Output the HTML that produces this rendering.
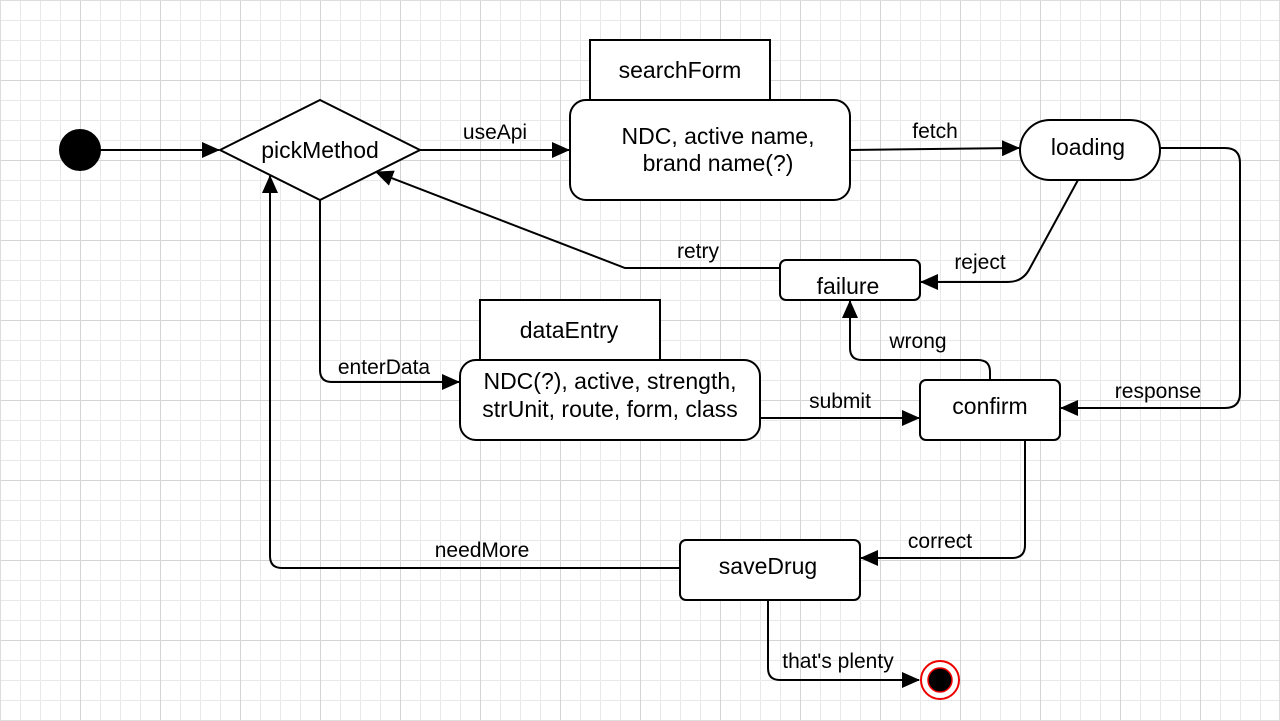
<!DOCTYPE html>
<html><head><style>
body{margin:0;background:#fff;}
svg{display:block;}
text{font-family:"Liberation Sans",Arial,sans-serif;fill:#000;}
</style></head><body>
<svg width="1280" height="721" viewBox="0 0 1280 721" xmlns="http://www.w3.org/2000/svg">
<defs>
<pattern id="minor" width="20" height="20" patternUnits="userSpaceOnUse" x="1" y="1">
<path d="M20 0V20M0 20H20" stroke="#e8e8e8" stroke-width="1" fill="none" transform="translate(-0.5,-0.5)"/>
</pattern>
<pattern id="major" width="80" height="80" patternUnits="userSpaceOnUse" x="1" y="1">
<path d="M80 0V80M0 80H80" stroke="#d4d4d4" stroke-width="1" fill="none" transform="translate(-0.5,-0.5)"/>
</pattern>
<marker id="a" markerWidth="18" markerHeight="16" refX="17" refY="8" orient="auto" markerUnits="userSpaceOnUse" viewBox="0 0 18 16">
<path d="M0,0 L18,8 L0,16 Z" fill="#000"/>
</marker>
</defs>
<rect width="1280" height="721" fill="url(#minor)"/>
<rect width="1280" height="721" fill="url(#major)"/>
<rect x="0.5" y="0.5" width="1279" height="720" fill="none" stroke="#ddd"/>
<g stroke="#000" stroke-width="2" fill="none">
<line x1="100" y1="150" x2="219" y2="150" marker-end="url(#a)"/>
<line x1="420" y1="150" x2="569" y2="150" marker-end="url(#a)"/>
<line x1="850" y1="150" x2="1019" y2="148" marker-end="url(#a)"/>
<path d="M1160 148H1225Q1240 148 1240 163V393Q1240 408 1225 408H1061" marker-end="url(#a)"/>
<path d="M1078 180L1030 268Q1023 282 1008 282H921" marker-end="url(#a)"/>
<path d="M780 268H625L376 172" marker-end="url(#a)"/>
<path d="M990 380V372Q990 360 978 360H862Q850 360 850 348V301" marker-end="url(#a)"/>
<path d="M320 200V370Q320 382 332 382H459" marker-end="url(#a)"/>
<line x1="760" y1="418" x2="919" y2="418" marker-end="url(#a)"/>
<path d="M1025 440V545Q1025 558 1012 558H861" marker-end="url(#a)"/>
<path d="M680 568H282Q270 568 270 556V176" marker-end="url(#a)"/>
<path d="M768 600V668Q768 680 780 680H919" marker-end="url(#a)"/>
</g>
<g stroke="#000" stroke-width="2" fill="#fff">
<circle cx="80" cy="150" r="20" fill="#000"/>
<polygon points="220,150 320,100 420,150 320,200"/>
<rect x="590" y="40" width="180" height="60" fill="#fff"/>
<rect x="570" y="100" width="280" height="100" rx="16"/>
<rect x="1020" y="120" width="140" height="60" rx="30"/>
<rect x="780" y="260" width="140" height="40" rx="6"/>
<rect x="480" y="300" width="180" height="60"/>
<rect x="460" y="360" width="300" height="80" rx="16"/>
<rect x="920" y="380" width="140" height="60" rx="6"/>
<rect x="680" y="540" width="180" height="60" rx="6"/>
<circle cx="940" cy="680" r="19" stroke="#e00" stroke-width="2"/>
<circle cx="940" cy="680" r="12" fill="#000" stroke="#e00" stroke-width="1.5"/>
</g>
<g font-size="23" text-anchor="middle">
<text x="320" y="158">pickMethod</text>
<text x="680" y="78">searchForm</text>
<text x="718" y="144">NDC, active name,</text>
<text x="718" y="171">brand name(?)</text>
<text x="1088" y="155">loading</text>
<text x="848" y="294">failure</text>
<text x="569" y="338">dataEntry</text>
<text x="610" y="389">NDC(?), active, strength,</text>
<text x="610" y="417">strUnit, route, form, class</text>
<text x="990" y="414">confirm</text>
<text x="768" y="574">saveDrug</text>
</g>
<g font-size="21" text-anchor="middle">
<text x="495" y="139">useApi</text>
<text x="935" y="138">fetch</text>
<text x="1158" y="398">response</text>
<text x="980" y="269">reject</text>
<text x="698" y="258">retry</text>
<text x="918" y="348">wrong</text>
<text x="384" y="374">enterData</text>
<text x="840" y="408">submit</text>
<text x="940" y="548">correct</text>
<text x="482" y="557">needMore</text>
<text x="838" y="668">that's plenty</text>
</g>
</svg>
</body></html>
